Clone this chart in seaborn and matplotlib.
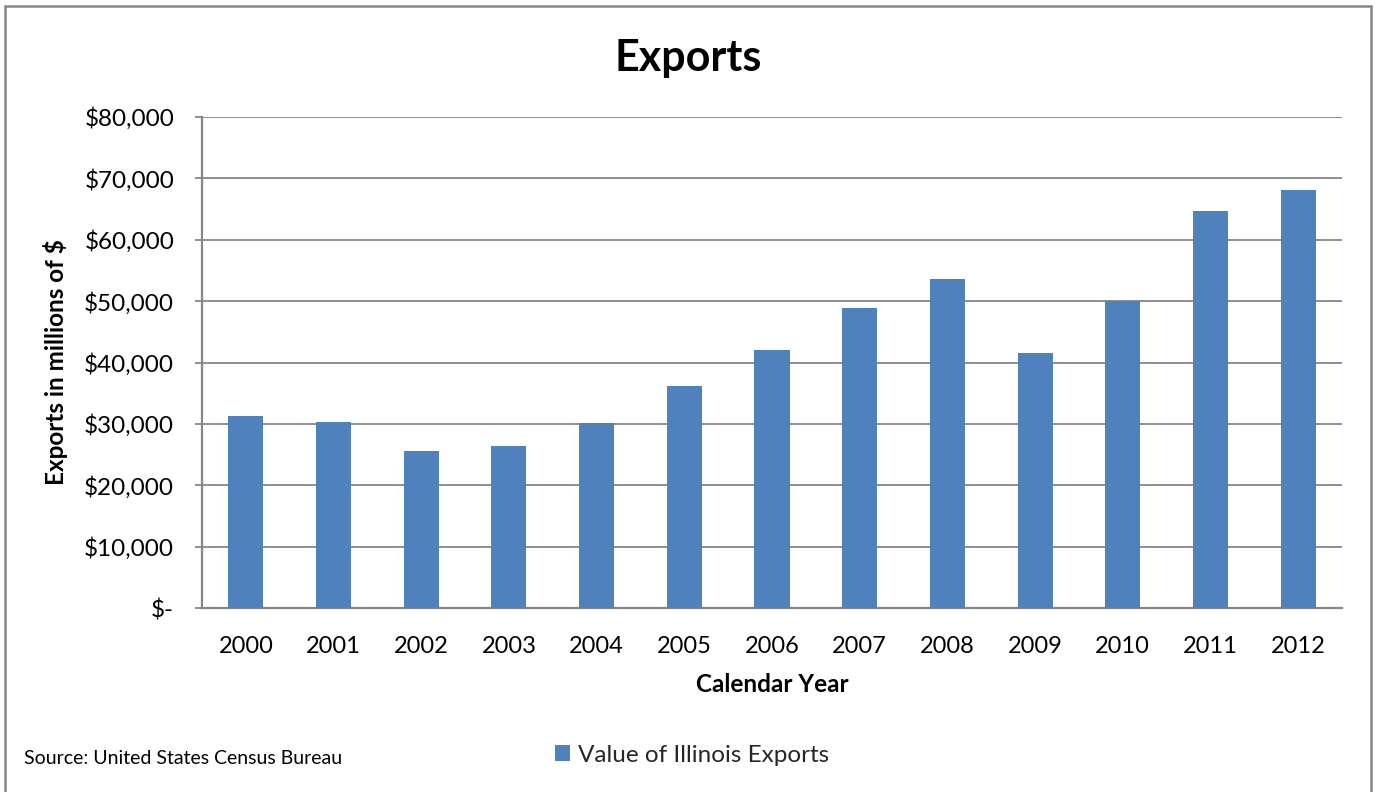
import matplotlib
matplotlib.use("Agg")
import matplotlib.pyplot as plt
from matplotlib.patches import Rectangle
from matplotlib.ticker import FuncFormatter, MultipleLocator
import seaborn as sns
import pandas as pd

# Illinois export values, millions of dollars
years = ["2000", "2001", "2002", "2003", "2004", "2005", "2006",
         "2007", "2008", "2009", "2010", "2011", "2012"]
exports = [31340, 30340, 25600, 26380, 30160, 36110, 42090,
           48890, 53670, 41600, 50030, 64760, 68030]

series_name = "Value of Illinois Exports"
bar_color = "#4F81BD"
line_gray = "#868686"

sns.set_theme(style="white")
plt.rcParams["font.family"] = ["Lato", "DejaVu Sans"]

df = pd.DataFrame({"Year": years, "Exports": exports})

fig = plt.figure(figsize=(13.75, 7.92), dpi=100)
ax = fig.add_axes([202 / 1375, 1 - 608 / 792, (1342 - 202) / 1375, (608 - 117) / 792])

sns.barplot(data=df, x="Year", y="Exports", color=bar_color, saturation=1,
            width=0.4, ax=ax, label=series_name, linewidth=0, zorder=3)
if ax.get_legend() is not None:
    ax.get_legend().remove()

ax.set_ylim(0, 80000)
ax.set_xlim(-0.5, len(years) - 0.5)
ax.yaxis.set_major_locator(MultipleLocator(10000))
ax.yaxis.set_major_formatter(
    FuncFormatter(lambda v, _: "$-" if v == 0 else f"${v:,.0f}"))

ax.grid(axis="y", color=line_gray, linewidth=1.3, zorder=0)
ax.grid(axis="x", visible=False)
for side in ("top", "right"):
    ax.spines[side].set_visible(False)
for side in ("left", "bottom"):
    ax.spines[side].set_color(line_gray)
    ax.spines[side].set_linewidth(1.6)

ax.tick_params(axis="y", which="major", left=True, length=5, width=1.3,
               color=line_gray, labelsize=17.5, pad=15, labelcolor="black")
ax.tick_params(axis="x", bottom=False, labelsize=17, pad=14, labelcolor="black")

ax.set_xlabel("Calendar Year", fontsize=17.5, fontweight="bold", labelpad=12,
              color="black")
ax.set_ylabel("Exports in millions of $", fontsize=17.5, fontweight="bold",
              labelpad=12, color="black")

fig.text(688 / 1375, 1 - 58 / 792, "Exports", ha="center", va="center",
         fontsize=31, fontweight="bold", color="black")

fig.text(24 / 1375, 1 - 758 / 792, "Source: United States Census Bureau",
         ha="left", va="center", fontsize=14, color="black")

handles, labels = ax.get_legend_handles_labels()
fig.legend(handles[:1], labels[:1], loc="center",
           bbox_to_anchor=(692 / 1375, 1 - 755 / 792),
           frameon=False, fontsize=17.5, handlelength=0.62, handleheight=0.62,
           handletextpad=0.3, borderaxespad=0, borderpad=0)

# outer chart frame
fig.patches.append(Rectangle((5 / 1375, -0.02), 1366 / 1375, 1.02 - 6 / 792,
                             transform=fig.transFigure, fill=False,
                             edgecolor=line_gray, linewidth=1.8))

fig.savefig("out.png", dpi=100, facecolor="white")
